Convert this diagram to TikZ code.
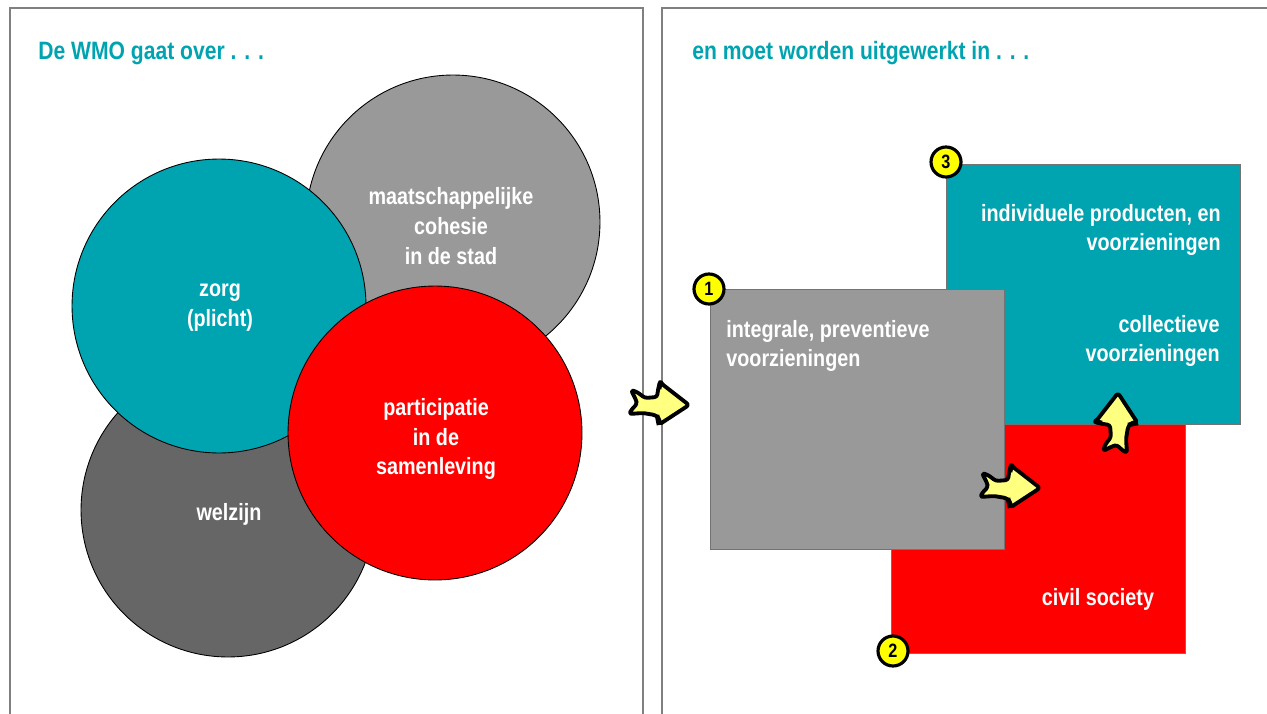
\documentclass[tikz,border=0pt]{standalone}
\usepackage{fontspec}
\setmainfont[FakeStretch=0.84]{Liberation Sans}
\usetikzlibrary{positioning}

\definecolor{wmoteal}{RGB}{0,163,176}
\definecolor{wmolight}{RGB}{153,153,153}
\definecolor{wmodark}{RGB}{102,102,102}
\definecolor{wmored}{RGB}{255,0,0}
\definecolor{wmoarrow}{RGB}{255,255,128}
\definecolor{wmobadge}{RGB}{255,255,0}

\begin{document}
\begin{tikzpicture}[x=0.02cm,y=-0.02cm]
        \tikzset{panel/.style={draw=black!50, line width=0.6pt},
                 heading/.style={text=wmoteal, font=\fontsize{14.3}{17}\selectfont\bfseries, anchor=west, inner sep=0pt},
                 bubble/.style={circle, draw=black, line width=0.5pt, minimum size=5.88cm, inner sep=0pt},
                 block/.style={rectangle, draw=black!55, line width=0.5pt, minimum width=5.88cm, minimum height=5.2cm, inner sep=0pt},
                 blocktext/.style={text=white, font=\fontsize{13.4}{17}\selectfont\bfseries, inner sep=0pt},
                 badge/.style={circle, draw=black, line width=1.8pt, fill=wmobadge, minimum size=0.6cm, inner sep=0pt,
                 font=\fontsize{11}{12}\selectfont\bfseries},
                 handarrow/.pic={
                 \draw[line width=2.2pt, fill=wmoarrow, rounded corners=1.5pt, line join=round]
                 (0,0) -- (-27,-21) -- (-29,-24) -- (-31,-15) -- (-32,-8) -- (-44,-7) -- (-52,-13) -- (-58,-15)
                 -- (-53,-5) -- (-52,-1) -- (-57,4) -- (-60,9) -- (-46,8) -- (-34,10) -- (-30,13) -- (-29,19) -- (-26,17) -- cycle;
                 \draw[line width=2.6pt] (-32,10) -- (-30,20);
                 \draw[line width=2.6pt] (-30,-16) -- (-28,-24);}}

        \useasboundingbox (0,0) rectangle (1267,713);

        % left panel
        \draw[panel] (10,720) -- (10,8) -- (643,8) -- (643,720);
        \node[heading] (titleleft) at (38,53) {De WMO gaat over . . .};

        \node[bubble, fill=wmolight] (cohesion) at (453,222) {};
        \node[bubble, fill=wmodark] (welzijn) at (228,510) {};
        \node[bubble, fill=wmoteal] (zorg) at (219,306) {};
        \node[bubble, fill=wmored] (participatie) at (435,433) {};

        \node[blocktext, align=center] (cohesiontext) at (451,226) {maatschappelijke\\cohesie\\in de stad};
        \node[blocktext, align=center] (welzijntext) at (229,514) {welzijn};
        \node[blocktext, align=center] (zorgtext) at (220,308) {zorg\\(plicht)};
        \node[blocktext, align=center] (participatietext) at (436,439) {participatie\\in de\\samenleving};

        % right panel
        \draw[panel] (662,720) -- (662,8) -- (1275,8);
        \node[heading] (titleright) at (692,53) {en moet worden uitgewerkt in . . .};

        \node[block, fill=wmored, anchor=north west] (civil) at (891,393) {};
        \node[block, fill=wmoteal, anchor=north west] (products) at (946,164) {};
        \node[block, fill=wmolight, anchor=north west] (integral) at (710,289) {};

        \node[blocktext, align=right, anchor=east] (productstext) at (1221,230) {individuele producten, en\\voorzieningen};
        \node[blocktext, align=right, anchor=east] (collectivetext) at (1220,341) {collectieve\\voorzieningen};
        \node[blocktext, align=left, anchor=west] (integraltext) at (726,346) {integrale, preventieve\\voorzieningen};
        \node[blocktext] (civiltext) at (1098,599) {civil society};

        \node[badge] (one) at (709,289) {1};
        \node[badge] (two) at (893,651) {2};
        \node[badge] (three) at (946,162) {3};

        \pic at (689,405) {handarrow};
        \pic at (1040,488) {handarrow};
        \pic[rotate=90] at (1118,393) {handarrow};
\end{tikzpicture}
\end{document}
